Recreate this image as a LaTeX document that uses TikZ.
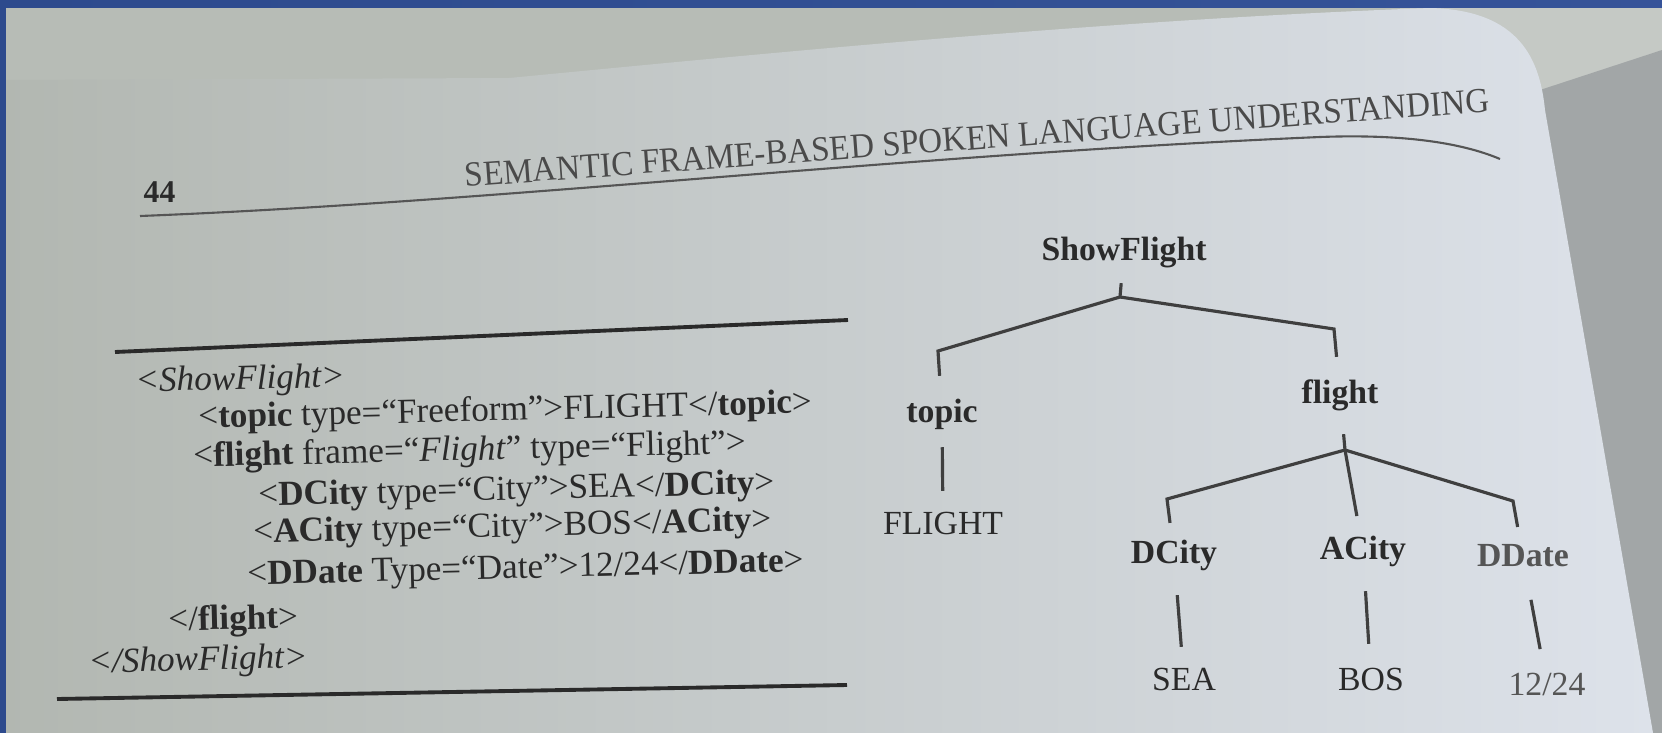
\documentclass[tikz,border=0pt]{standalone}
\usepackage{fontspec}
\setmainfont{Liberation Serif}
\usepackage{tikz}
\usetikzlibrary{positioning,calc}
\definecolor{ink}{HTML}{2A2A2A}
\definecolor{frameblue}{HTML}{2D4A8D}
\definecolor{frameblueL}{HTML}{5A78C8}
\definecolor{pageL}{HTML}{B2B7B1}
\definecolor{pageM}{HTML}{C6CAC6}
\definecolor{pageR}{HTML}{DDE2EA}
\definecolor{wall}{HTML}{B7BCB6}
\definecolor{wallR}{HTML}{C5C9C5}
\definecolor{shadow}{HTML}{A2A6A7}

\begin{document}
\begin{tikzpicture}[x=1cm,y=-1cm,
  xmlline/.style={anchor=base west,inner sep=0pt,rotate=1.4,font=\fontsize{10}{12}\selectfont,text=ink},
  treelabel/.style={inner sep=0pt,text height=1.6ex,text depth=0.45ex,font=\fontsize{9.6}{11}\selectfont\bfseries,text=ink},
  treeleaf/.style={treelabel,font=\fontsize{9.6}{11}\selectfont},
  treeline/.style={ink!90,line width=0.9pt},
  rulebar/.style={ink,line width=1.1pt}]
  \useasboundingbox (0,0) rectangle (16.62,7.33);
  % photo of the page
  \fill[wall] (0,0) rectangle (16.62,7.33);
  \fill[wallR] (14,0) rectangle (16.62,7.33);
  \fill[shadow] (15.40,0.90) -- (16.62,0.50) -- (16.62,7.33) -- (15.40,7.33) -- cycle;
  \shade[left color=pageL,middle color=pageM,right color=pageR] (0,0.80) -- (5.09,0.78)
     .. controls (7.5,0.55) and (11,0.2) .. (14.3,0.08) .. controls (15.2,0.1) and (15.4,0.6) .. (15.45,1.10)
     -- (16.53,7.33) -- (0,7.33) -- cycle;
  \shade[left color=frameblue,middle color=frameblueL,right color=frameblue!80!frameblueL] (0,0) rectangle (16.62,0.07);
  \fill[frameblue] (0,0) rectangle (0.06,7.33);
  % running head
  \node[font=\bfseries\fontsize{9}{10}\selectfont,text=ink,anchor=base west,inner sep=0pt] (pagenum) at (1.43,2.02) {44};
  \node[anchor=base west,inner sep=0pt,rotate=4.2,text=ink!85,font=\fontsize{10}{12}\selectfont] (runhead) at (4.65,1.87)
     {\scalebox{0.94}[1]{SEMANTIC FRAME-BASED SPOKEN LANGUAGE UNDERSTANDING}};
  \draw[ink!80,line width=0.6pt] (1.40,2.16) .. controls (5,2.02) and (9,1.55) .. (13.2,1.37)
     .. controls (14.0,1.34) and (14.6,1.42) .. (15.0,1.59);
  % xml listing
  \draw[rulebar] (1.15,3.52) -- (8.48,3.20);
  \draw[rulebar] (0.57,6.99) -- (8.47,6.85);
  \node[xmlline] (x1) at (1.35,3.92) {\itshape <ShowFlight>};
  \node[xmlline] (x2) at (1.98,4.28) {<\textbf{topic} type=“Freeform”>FLIGHT</\textbf{topic}>};
  \node[xmlline] (x3) at (1.93,4.67) {<\textbf{flight} frame=“\textit{Flight}” type=“Flight”>};
  \node[xmlline] (x4) at (2.58,5.06) {<\textbf{DCity} type=“City”>SEA</\textbf{DCity}>};
  \node[xmlline] (x5) at (2.53,5.43) {<\textbf{ACity} type=“City”>BOS</\textbf{ACity}>};
  \node[xmlline] (x6) at (2.47,5.85) {<\textbf{DDate} Type=“Date”>12/24</\textbf{DDate}>};
  \node[xmlline] (x7) at (1.68,6.31) {</\textbf{flight}>};
  \node[xmlline] (x8) at (0.88,6.73) {\itshape </ShowFlight>};
  % tree
  \node[treelabel] (showflight) at (11.24,2.51) {ShowFlight};
  \node[treelabel] (topic) at (9.42,4.13) {topic};
  \node[treelabel] (flight) at (13.40,3.94) {flight};
  \node[treeleaf] (flightval) at (9.43,5.25) {FLIGHT};
  \node[treelabel] (dcity) at (11.74,5.54) {DCity};
  \node[treelabel] (acity) at (13.63,5.50) {ACity};
  \node[treelabel,text=ink!80] (ddate) at (15.23,5.57) {DDate};
  \node[treeleaf] (sea) at (11.84,6.81) {SEA};
  \node[treeleaf] (bos) at (13.71,6.81) {BOS};
  \node[treeleaf,text=ink!80] (date) at (15.47,6.86) {12/24};
  \coordinate (j0) at (11.20,2.97);
  \coordinate (ktopic) at (9.38,3.51);
  \coordinate (kflight) at (13.34,3.29);
  \coordinate (j1) at (13.45,4.50);
  \coordinate (kdcity) at (11.67,4.99);
  \coordinate (kddate) at (15.13,5.01);
  \draw[treeline,shorten <=0.15cm] (showflight) -- (j0);
  \draw[treeline,shorten >=0.2cm] (j0) -- (ktopic) -- (topic);
  \draw[treeline,shorten >=0.2cm] (j0) -- (kflight) -- (flight);
  \draw[treeline,shorten <=0.23cm] (flight) -- (j1);
  \draw[treeline,shorten >=0.14cm] (j1) -- (kdcity) -- (dcity);
  \draw[treeline,shorten >=0.17cm] (j1) -- (acity);
  \draw[treeline,shorten >=0.13cm] (j1) -- (kddate) -- (ddate);
  \draw[treeline,shorten <=0.17cm,shorten >=0.17cm] (topic) -- (flightval);
  \draw[treeline,shorten <=0.24cm,shorten >=0.17cm] (dcity) -- (sea);
  \draw[treeline,shorten <=0.24cm,shorten >=0.2cm] (acity) -- (bos);
  \draw[treeline,shorten <=0.26cm,shorten >=0.2cm] (ddate) -- (date);
\end{tikzpicture}
\end{document}
